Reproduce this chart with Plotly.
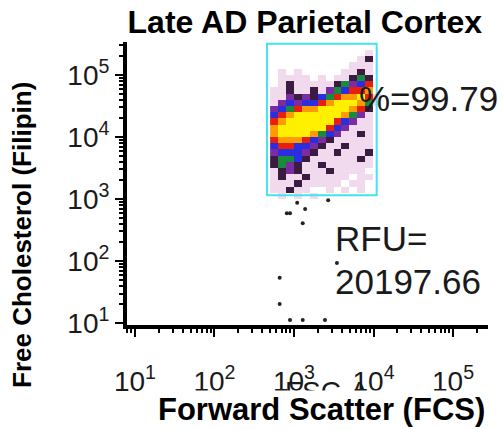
import numpy as np
import plotly.graph_objects as go

# ---- data (log10 decades) ----
x_centers = [2.75, 2.85, 2.95, 3.05, 3.15, 3.25, 3.35, 3.45, 3.55, 3.65, 3.75, 3.85, 3.95, 4.05]
y_centers = [5.35, 5.25, 5.15, 5.05, 4.95, 4.85, 4.75, 4.65, 4.55, 4.45, 4.35, 4.25,
             4.15, 4.05, 3.95, 3.85, 3.75, 3.65, 3.55, 3.45, 3.35, 3.25, 3.15, 3.05]
density = [
    [0,0,0,0,0,0,0,0,0,0,0,0,1,0],
    [0,0,0,0,0,0,0,0,0,0,0,1,2,0],
    [0,0,0,0,0,0,0,0,0,0,1,1,1,0],
    [0,1,0,1,0,0,0,0,0,1,1,2,1,0],
    [0,1,1,1,1,0,1,0,1,1,2,5,2,0],
    [0,1,2,1,1,1,1,1,2,5,3,4,6,0],
    [1,1,2,1,1,2,1,3,5,4,6,6,7,0],
    [1,1,3,2,3,2,4,5,6,7,7,8,6,1],
    [1,3,4,3,4,4,6,7,8,8,8,7,5,1],
    [3,4,5,6,7,7,8,8,8,8,7,6,2,0],
    [4,6,7,8,8,8,8,8,8,7,5,3,1,0],
    [6,7,8,8,8,8,8,8,6,4,3,1,1,0],
    [7,8,8,8,8,8,8,6,4,3,1,1,1,0],
    [7,8,8,8,8,7,5,4,3,1,1,2,1,0],
    [6,7,7,7,6,4,3,2,1,1,1,1,1,0],
    [4,6,6,4,4,3,2,1,1,2,1,1,1,0],
    [3,4,4,4,3,2,1,1,2,1,1,1,2,0],
    [2,5,5,4,2,1,1,1,1,1,1,2,1,0],
    [2,5,3,2,1,1,2,1,1,1,1,1,1,0],
    [1,2,3,2,1,1,1,2,1,1,1,1,0,0],
    [1,2,1,1,2,1,1,1,1,1,0,1,1,0],
    [1,1,1,2,1,1,1,1,1,0,1,1,0,0],
    [1,1,2,1,1,0,0,1,0,1,0,1,0,0],
    [0,1,0,1,0,1,0,0,0,0,0,0,0,0],
]
outlier_x = [3.04, 2.91, 2.95, 3.14, 3.43, 3.11, 2.82, 2.82, 3.54, 2.95, 3.11, 3.39]
outlier_y = [2.94, 2.77, 2.77, 2.84, 2.98, 2.61, 1.73, 1.31, 1.97, 1.05, 1.05, 1.05]

gate_x = [2.66, 4.04]
gate_y = [3.06, 5.50]

decades = [1, 2, 3, 4, 5]
tick_text = ["10<sup>1</sup>", "10<sup>2</sup>", "10<sup>3</sup>", "10<sup>4</sup>", "10<sup>5</sup>"]
pct_label = "%=99.79"
rfu_label = ["RFU=", "20197.66"]

# ---- figure ----
z = [[(v if v > 0 else None) for v in row] for row in density]
levels = ["#f1d9ee", "#3b1b42", "#7b2ca0", "#2b2ee0", "#1a8a3c", "#e5200f", "#ff9b00", "#fff000"]
n = len(levels)
cs = []
for i, c in enumerate(levels):
    cs.append([i / n, c])
    cs.append([(i + 1) / n, c])

FONT = "Liberation Sans, Arial"

fig = go.Figure()
fig.add_trace(go.Heatmap(x=x_centers, y=y_centers, z=z, colorscale=cs, zmin=0.5, zmax=n + 0.5,
                         showscale=False, hoverinfo="skip"))
fig.add_trace(go.Scatter(x=outlier_x, y=outlier_y, mode="markers",
                         marker=dict(size=4, color="#222222"), hoverinfo="skip"))

fig.add_shape(type="rect", x0=gate_x[0], x1=gate_x[1], y0=gate_y[0], y1=gate_y[1],
              line=dict(color="#45e3f0", width=2), layer="above")

minor_vals = [d + np.log10(m) for d in range(0, 6) for m in range(2, 10)]

axis_common = dict(
    showgrid=False, zeroline=False, showline=True, linecolor="black", linewidth=4,
    ticks="outside", tickcolor="black", tickwidth=2, ticklen=8,
    tickvals=decades, ticktext=tick_text,
    tickfont=dict(family=FONT, size=28, color="#1a1a1a"),
    minor=dict(tickvals=minor_vals, ticks="outside", ticklen=4, tickwidth=1.5, tickcolor="black"),
)
fig.update_xaxes(range=[0.9, 5.44], ticklabelstandoff=20, **axis_common)
fig.update_yaxes(range=[0.97, 5.53], ticklabelstandoff=0, **axis_common)

fig.update_layout(
    width=503, height=430,
    margin=dict(l=127, r=15, t=42, b=105),
    paper_bgcolor="white", plot_bgcolor="white",
    showlegend=False,
    title=dict(text="<b>Late AD Parietal Cortex</b>", x=0.606, xanchor="center",
               y=1 - 22 / 430, yanchor="middle",
               font=dict(family=FONT, size=32, color="black")),
)

annos = [
    dict(text="FSC-A", x=0.555, y=-0.235, font=dict(size=28, color="#1a1a1a")),
    dict(text="<b>Forward Scatter (FCS)</b>", x=0.54, y=-0.30, font=dict(size=31, color="black"),
         bgcolor="white"),
    dict(text="<b>Free Cholesterol (Filipin)</b>", x=-0.291, y=0.318, textangle=-90,
         font=dict(size=26, color="black")),
    dict(text=pct_label, x=0.637, y=0.802, xanchor="left", font=dict(size=35, color="#1a1a1a")),
    dict(text=rfu_label[0], x=0.571, y=0.307, xanchor="left", font=dict(size=35, color="#1a1a1a")),
    dict(text=rfu_label[1], x=0.571, y=0.152, xanchor="left", font=dict(size=35, color="#1a1a1a")),
]
for a in annos:
    a.setdefault("xanchor", "center")
    a["font"]["family"] = FONT
    fig.add_annotation(xref="paper", yref="paper", showarrow=False, yanchor="middle", **a)

fig.write_html("out.html")
